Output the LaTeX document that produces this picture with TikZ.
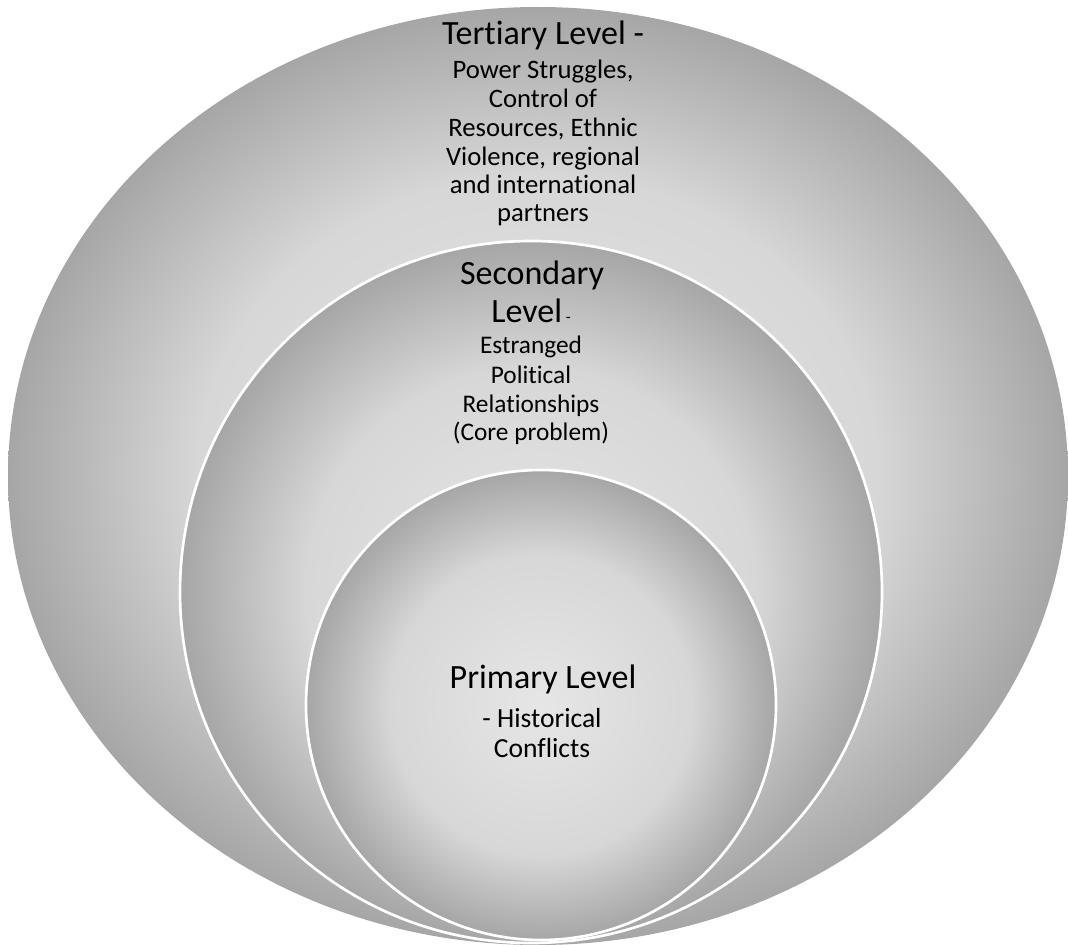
\documentclass[tikz,border=0pt]{standalone}
\usepackage{fontspec}
\setmainfont{Carlito}[Ligatures={NoCommon,NoRare,NoContextual}]
\definecolor{gLight}{HTML}{E6E6E6}
\definecolor{gMid}{HTML}{D7D7D7}
\definecolor{gDark}{HTML}{A6A6A6}
\pgfdeclareradialshading{levelshade}{\pgfpoint{0bp}{0bp}}{color(0bp)=(gLight); color(16bp)=(gMid); color(25bp)=(gDark); color(50bp)=(gDark)}
\tikzset{
  ringborder/.style={draw=white, line width=2pt, shading=levelshade},
  headtxt/.style={anchor=base, inner sep=0pt, font=\fontsize{25.5}{30}\selectfont},
  bodytxt/.style={anchor=base, inner sep=0pt, font=\fontsize{20}{24}\selectfont},
  bodysm/.style={anchor=base, inner sep=0pt, font=\fontsize{19}{23}\selectfont}
}
\begin{document}
\begin{tikzpicture}[x=0.75pt,y=-0.75pt]
\useasboundingbox (0,0) rectangle (1068,945);
% levels
\path[shading=levelshade] (538,476) ellipse [x radius=397.5pt, y radius=351.75pt];
\path[ringborder] (531,592) circle [radius=263.25pt];
\path[ringborder] (541,705) circle [radius=176.25pt];
% tertiary text
\node[headtxt] (t0) at (543,45) {Tertiary Level -};
\node[bodytxt] (t1) at (543,79) {Power Struggles,};
\node[bodytxt] (t2) at (543,108) {Control of};
\node[bodytxt] (t3) at (543,137) {Resources, Ethnic};
\node[bodytxt] (t4) at (543,166) {Violence, regional};
\node[bodytxt] (t5) at (543,194) {and international};
\node[bodytxt] (t6) at (543,222) {partners};
% secondary text
\node[headtxt] (s0) at (532,285) {Secondary};
\node[headtxt] (s1) at (531,322) {Level{\fontsize{12}{14}\selectfont\ -}};
\node[bodysm] (s2) at (531,353) {Estranged};
\node[bodysm] (s3) at (531,383) {Political};
\node[bodysm] (s4) at (531,412) {Relationships};
\node[bodysm] (s5) at (531,440) {(Core problem)};
% primary text
\node[headtxt] (p0) at (543,688) {Primary Level};
\node[bodytxt, font=\fontsize{20.7}{25}\selectfont] (p1) at (542,727) {- Historical};
\node[bodytxt, font=\fontsize{20.7}{25}\selectfont] (p2) at (542,757) {Conflicts};
\end{tikzpicture}
\end{document}
